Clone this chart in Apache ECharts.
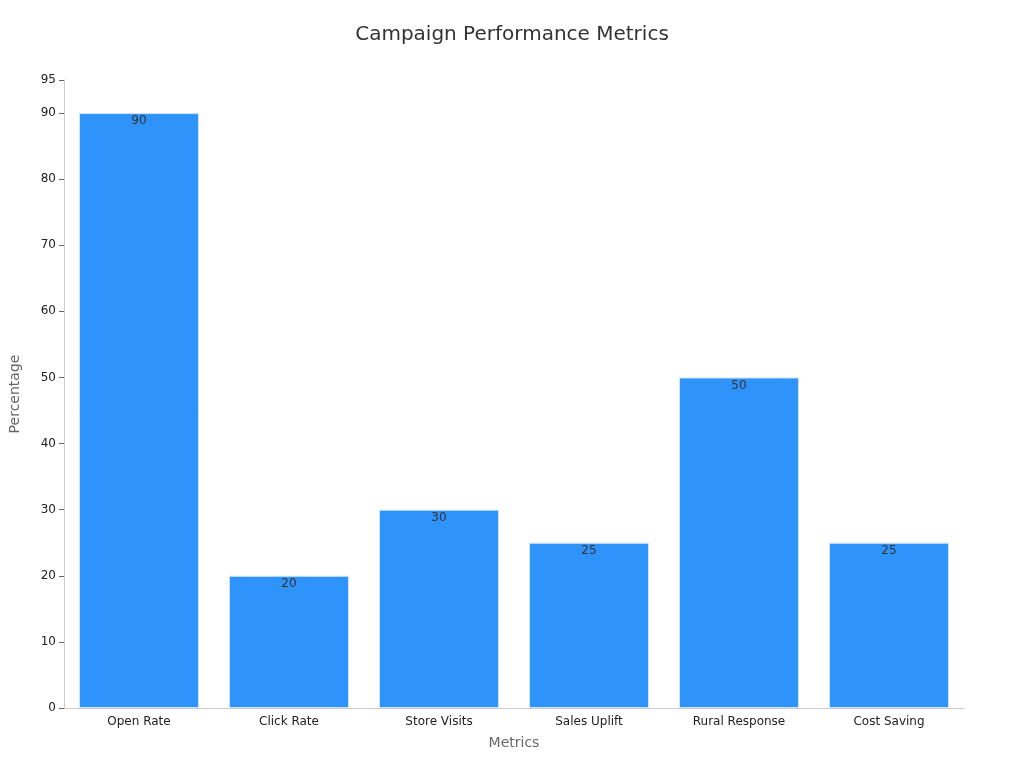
<!DOCTYPE html>
<html><head><meta charset="utf-8">
<script src="https://cdn.jsdelivr.net/npm/echarts@6/dist/echarts.min.js"></script>
<style>html,body{margin:0;padding:0;background:#fff}#c{width:1024px;height:768px}</style>
</head><body><div id="c"></div>
<script>
const categories = ["Open Rate","Click Rate","Store Visits","Sales Uplift","Rural Response","Cost Saving"];
const values = [90,20,30,25,50,25];
const chart = echarts.init(document.getElementById('c'));
chart.setOption({
  title:{text:"Campaign Performance Metrics",left:'center',top:20,textStyle:{fontFamily:'DejaVu Sans',fontSize:20,fontWeight:'normal',color:'#333'}},
  grid:{left:60,right:60,top:80,bottom:60},
  xAxis:{type:'category',data:categories,name:'Metrics',nameLocation:'middle',nameGap:28,
    nameTextStyle:{fontFamily:'DejaVu Sans',fontSize:14,color:'#666'},
    axisLine:{lineStyle:{color:'#ccc'}},axisTick:{show:false},
    axisLabel:{fontFamily:'DejaVu Sans',fontSize:12,color:'#222'}},
  yAxis:{type:'value',min:0,max:95,interval:10,name:'Percentage',nameLocation:'middle',nameGap:42,
    nameTextStyle:{fontFamily:'DejaVu Sans',fontSize:14,color:'#666'},
    axisLine:{show:true,lineStyle:{color:'#ccc'}},axisTick:{show:true,lineStyle:{color:'#666'}},
    splitLine:{show:false},
    axisLabel:{fontFamily:'DejaVu Sans',fontSize:12,color:'#222'}},
  series:[{type:'bar',data:values,barCategoryGap:'20%',
    itemStyle:{color:'#2E93FA',borderColor:'#cfe3f7',borderWidth:1},
    label:{show:true,position:'insideTop',offset:[0,-3],color:'#333',fontFamily:'DejaVu Sans',fontSize:12}}]
});
</script></body></html>
